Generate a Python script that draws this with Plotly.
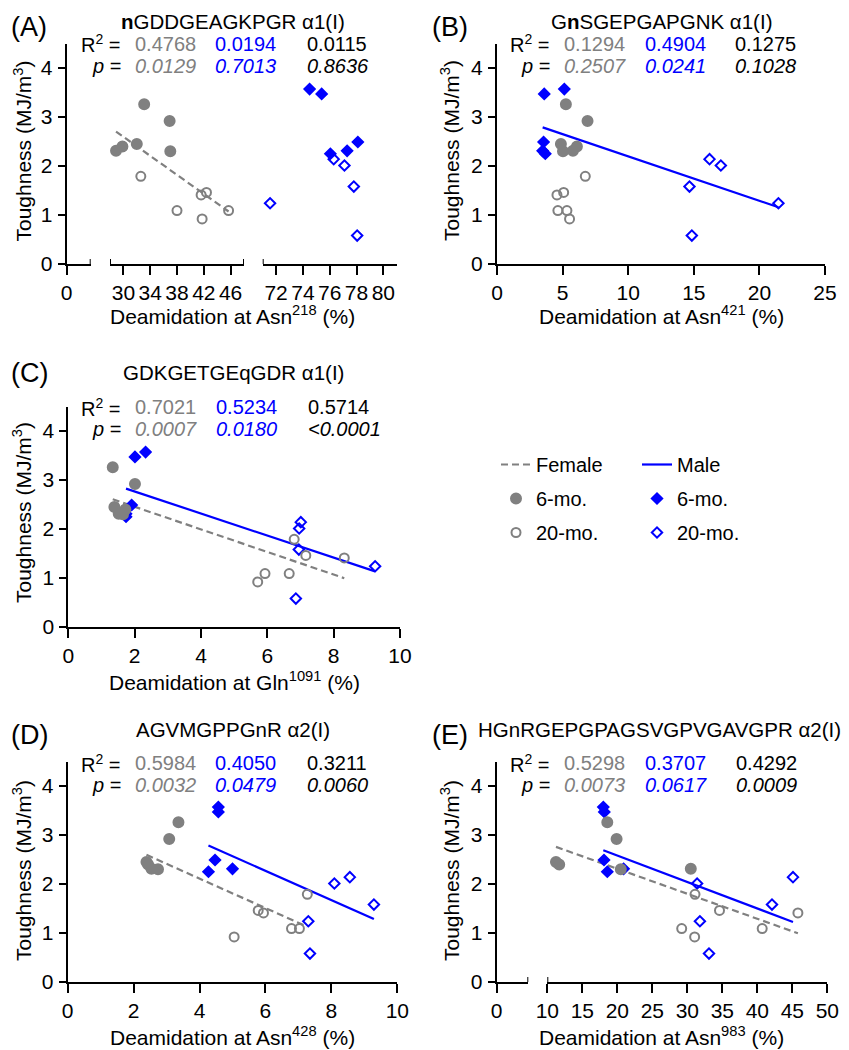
import numpy as np
import plotly.graph_objects as go

FONT = "Liberation Sans, Arial, Helvetica, sans-serif"
GRAY = "#808080"
BLUE = "#0000ff"
W, H = 849, 1050
OFF = 8  # the page body margin shifts the figure by this much

# toughness (MJ/m^3) - same animals in every panel
tough_f6 = [3.26, 2.92, 2.45, 2.40, 2.31, 2.30]
tough_f20 = [1.79, 1.46, 1.41, 1.09, 1.09, 0.92]
tough_m6 = [3.57, 3.47, 2.49, 2.31, 2.25]
tough_m20 = [2.14, 2.01, 1.58, 1.24, 0.58]

# deamidation (%) at each site, same order as the toughness lists
asn218_f6 = [33.1, 36.9, 32.0, 29.85, 28.9, 37.0]
asn218_f20 = [32.6, 42.4, 41.6, 38.0, 45.7, 41.75]
asn218_m6 = [74.5, 75.4, 78.1, 77.3, 76.05]
asn218_m20 = [76.3, 77.1, 77.8, 71.55, 78.05]

asn421_f6 = [5.25, 6.9, 4.87, 6.09, 5.79, 5.03]
asn421_f20 = [6.73, 5.08, 4.57, 4.64, 5.33, 5.53]
asn421_m6 = [5.13, 3.6, 3.55, 3.48, 3.68]
asn421_m20 = [16.2, 17.06, 14.67, 21.45, 14.85]

gln1091_f6 = [1.34, 2.01, 1.39, 1.72, 1.52, 1.65]
gln1091_f20 = [6.81, 7.16, 8.32, 6.66, 5.93, 5.71]
gln1091_m6 = [2.33, 2.01, 1.91, 1.74, 1.74]
gln1091_m20 = [7.01, 6.96, 6.95, 9.25, 6.86]

asn428_f6 = [3.36, 3.08, 2.39, 2.44, 2.54, 2.74]
asn428_f20 = [7.27, 5.78, 5.94, 6.79, 7.03, 5.05]
asn428_m6 = [4.57, 4.57, 4.47, 5.0, 4.27]
asn428_m20 = [8.56, 8.09, 9.29, 7.30, 7.35]

asn983_f6 = [18.57, 19.9, 11.24, 11.7, 30.5, 20.5]
asn983_f20 = [31.1, 34.6, 45.8, 29.2, 40.7, 31.05]
asn983_m6 = [18.0, 18.14, 18.1, 20.9, 18.57]
asn983_m20 = [45.1, 31.4, 42.1, 31.8, 33.1]

# reported statistics: female, male, all
stats_r2 = [["0.4768", "0.0194", "0.0115"], ["0.1294", "0.4904", "0.1275"],
            ["0.7021", "0.5234", "0.5714"], ["0.5984", "0.4050", "0.3211"],
            ["0.5298", "0.3707", "0.4292"]]
stats_p = [["0.0129", "0.7013", "0.8636"], ["0.2507", "0.0241", "0.1028"],
           ["0.0007", "0.0180", "<0.0001"], ["0.0032", "0.0479", "0.0060"],
           ["0.0073", "0.0617", "0.0009"]]
titles = ["<b>n</b>GDDGEAGKPGR α1(I)", "G<b>n</b>SGEPGAPGNK α1(I)", "GDKGETGEqGDR α1(I)",
          "AGVMGPPGnR α2(I)", "HGnRGEPGPAGSVGPVGAVGPR α2(I)"]
xtitles = ["Deamidation at Asn<sup>218</sup> (%)", "Deamidation at Asn<sup>421</sup> (%)",
           "Deamidation at Gln<sup>1091</sup> (%)", "Deamidation at Asn<sup>428</sup> (%)",
           "Deamidation at Asn<sup>983</sup> (%)"]
letters = ["(A)", "(B)", "(C)", "(D)", "(E)"]


def px(v):
    return (v - OFF) / W


def py(v):
    return 1 - (v - OFF) / H


fig = go.Figure()


def add_fit(x, y, color, dash, xa, ya, legend, show, name):
    x = np.concatenate(x)
    y = np.concatenate(y)
    k, b = np.polyfit(x, y, 1)
    xs = np.array([x.min(), x.max()])
    fig.add_trace(go.Scatter(x=xs, y=k * xs + b, mode="lines", xaxis=xa, yaxis=ya,
                             line=dict(color=color, width=2.2, dash=dash), name=name,
                             legend=legend, legendgroup=legend + name, legendrank=1,
                             showlegend=show, hoverinfo="skip"))


def add_pts(x, y, sym, color, size, xa, ya, legend, show, name, rank):
    fig.add_trace(go.Scatter(x=x, y=y, mode="markers", xaxis=xa, yaxis=ya, name=name,
                             marker=dict(symbol=sym, color=color, size=size,
                                         line=dict(color=color, width=2)),
                             legend=legend, legendgroup=legend + name, legendrank=rank,
                             showlegend=show))


def add_groups(xf6, xf20, xm6, xm20, xa_f, xa_m, ya, fit_f, fit_m, show_f, show_m):
    if fit_f:
        add_fit([xf6, xf20], [tough_f6, tough_f20], GRAY, "7px,4px", xa_f, ya, "legend", show_f, "Female")
    if fit_m:
        add_fit([xm6, xm20], [tough_m6, tough_m20], BLUE, "solid", xa_m, ya, "legend2", show_m, "Male")
    add_pts(xm6, tough_m6, "diamond", BLUE, 8, xa_m, ya, "legend2", show_f, "6-mo.", 2)
    add_pts(xm20, tough_m20, "diamond-open", BLUE, 8, xa_m, ya, "legend2", show_f, "20-mo.", 3)
    add_pts(xf6, tough_f6, "circle", GRAY, 10, xa_f, ya, "legend", show_f, "6-mo.", 2)
    add_pts(xf20, tough_f20, "circle-open", GRAY, 9, xa_f, ya, "legend", show_f, "20-mo.", 3)


# (A) broken axis: female on x2, male on x3
add_groups(asn218_f6, asn218_f20, asn218_m6, asn218_m20, "x2", "x3", "y", True, False, True, False)
# (B)
add_groups(asn421_f6, asn421_f20, asn421_m6, asn421_m20, "x4", "x4", "y2", False, True, False, True)
# (C)
add_groups(gln1091_f6, gln1091_f20, gln1091_m6, gln1091_m20, "x5", "x5", "y3", True, True, False, False)
# (D)
add_groups(asn428_f6, asn428_f20, asn428_m6, asn428_m20, "x6", "x6", "y4", True, True, False, False)
# (E) broken axis: data on x8
add_groups(asn983_f6, asn983_f20, asn983_m6, asn983_m20, "x8", "x8", "y5", True, True, False, False)

tickfont = dict(family=FONT, size=21, color="black")
common = dict(showgrid=False, zeroline=False, showline=True, linecolor="black", linewidth=2,
              ticks="outside", tickwidth=2, tickcolor="black", tickfont=tickfont,
              fixedrange=True, automargin=False)


def xax(left, right, rng, ticks, anchor):
    return dict(domain=[px(left), px(right)], range=rng, tickvals=ticks, anchor=anchor,
                ticklen=9, ticklabelstandoff=0, **common)


def yax(bottom, top, anchor):
    return dict(domain=[py(bottom), py(top)], range=[0, 4.5], tickvals=[0, 1, 2, 3, 4],
                anchor=anchor, ticklen=7, ticklabelstandoff=1, **common)


layout = dict(
    xaxis=xax(66.7, 90.7, [0, 3.58], [0], "y"),
    xaxis2=xax(110, 244, [28, 48], [30, 34, 38, 42, 46], "y"),
    xaxis3=xax(262.7, 396.7, [71, 81], [72, 74, 76, 78, 80], "y"),
    xaxis4=xax(497, 825, [0, 25], [0, 5, 10, 15, 20, 25], "y2"),
    xaxis5=xax(68.3, 400, [0, 10], [0, 2, 4, 6, 8, 10], "y3"),
    xaxis6=xax(67.7, 397.3, [0, 10], [0, 2, 4, 6, 8, 10], "y4"),
    xaxis7=xax(496.7, 528.3, [0, 4.5], [0], "y5"),
    xaxis8=xax(547.3, 827.3, [10, 50], [10, 15, 20, 25, 30, 35, 40, 45, 50], "y5"),
    yaxis=yax(264, 43.5, "x"),
    yaxis2=yax(264, 43.5, "x4"),
    yaxis3=yax(627, 406.5, "x5"),
    yaxis4=yax(982, 761.5, "x6"),
    yaxis5=yax(982, 761.5, "x7"),
)
fig.update_layout(**layout)

# end caps of the broken x axes
caps = [("x", "y", 3.58), ("x2", "y", 28), ("x2", "y", 48), ("x3", "y", 71),
        ("x7", "y5", 4.5), ("x8", "y5", 10)]
for xr, yr, xv in caps:
    fig.add_shape(type="line", xref=xr, yref=yr, x0=xv, x1=xv, ysizemode="pixel",
                  yanchor=0, y0=-5, y1=5, line=dict(color="black", width=2))

# text positions (screen pixels); texts kept inside the page margin
panel_pos = [
    dict(lx=9, ty=21, ly=27, tx=232.5, eq=122.7, c=(133.3, 213.3, 305), ry=44, pyy=66, xty=315, xtx=232, yty=151, ytx=22.5),
    dict(lx=430, ty=21, ly=27, tx=661, eq=551.7, c=(561.7, 642.7, 733.3), ry=44, pyy=66, xty=315, xtx=661, yty=151, ytx=450),
    dict(lx=9, ty=372.5, ly=373, tx=233, eq=122.7, c=(133.3, 214.3, 306), ry=407.5, pyy=429, xty=681, xtx=234, yty=513, ytx=22),
    dict(lx=9, ty=729.5, ly=735, tx=232.5, eq=122.7, c=(133.3, 213.3, 305), ry=763, pyy=785, xty=1036, xtx=232.5, yty=871, ytx=22),
    dict(lx=430, ty=729.5, ly=735, tx=659, eq=551.7, c=(562.3, 642.7, 734), ry=763, pyy=785, xty=1036, xtx=661.7, yty=871, ytx=450),
]
colors = [GRAY, BLUE, "black"]
ann = []


def text(x, y, s, size=21, color="black", xanchor="center", angle=0):
    ann.append(dict(x=px(x), y=py(y), xref="paper", yref="paper", text=s, showarrow=False,
                    xanchor=xanchor, yanchor="middle", textangle=angle,
                    font=dict(family=FONT, size=size, color=color)))


for i, p in enumerate(panel_pos):
    text(p["lx"], p["ly"], letters[i], size=27, xanchor="left")
    text(p["tx"], p["ty"], titles[i], size=20.5)
    text(p["eq"], p["ry"], "R<sup>2</sup> =", size=20, xanchor="right")
    text(p["eq"], p["pyy"], "<i>p</i> =", size=20, xanchor="right")
    for j in range(3):
        text(p["c"][j], p["ry"], stats_r2[i][j], size=20, color=colors[j], xanchor="left")
        text(p["c"][j], p["pyy"], "<i>" + stats_p[i][j] + "</i>", size=20, color=colors[j], xanchor="left")
    text(p["xtx"], p["xty"], xtitles[i])
    text(p["ytx"], p["yty"], "Toughness (MJ/m<sup>3</sup>)", angle=-90)

leg = dict(xanchor="left", yanchor="top", font=dict(family=FONT, size=20, color="black"),
           bgcolor="rgba(0,0,0,0)", tracegroupgap=5, itemwidth=30, traceorder="grouped")
fig.update_layout(
    width=W, height=H, margin=dict(l=0, r=0, t=0, b=0),
    plot_bgcolor="white", paper_bgcolor="white",
    font=dict(family=FONT, color="black"),
    annotations=ann,
    legend=dict(x=px(496), y=py(445), **leg),
    legend2=dict(x=px(637), y=py(445), **leg),
    hovermode="closest",
)

fig.write_html("out.html")
